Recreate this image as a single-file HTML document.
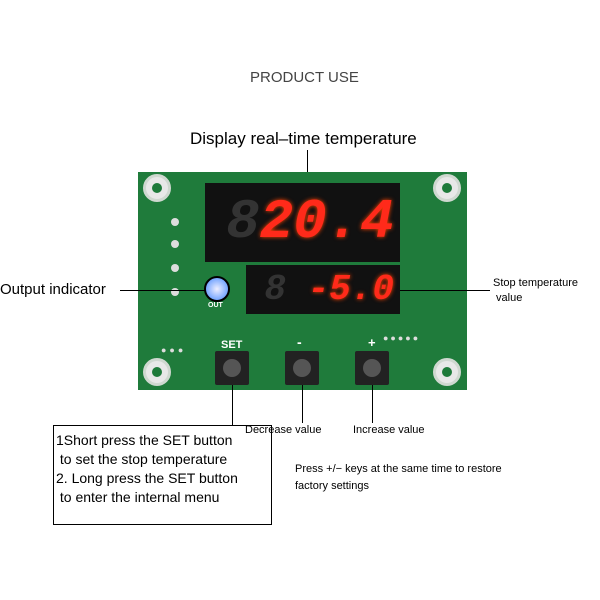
<!DOCTYPE html>
<html><head><style>
body{margin:0;width:600px;height:600px;background:#fff;position:relative;overflow:hidden;font-family:"Liberation Sans",sans-serif}
.a{position:absolute}
.hole{position:absolute;width:22px;height:22px;border-radius:50%;background:#e8e8e8;border:3px solid #cfd8d0}
.hole::after{content:"";position:absolute;left:6px;top:6px;width:10px;height:10px;border-radius:50%;background:#1e7a3a}
.disp{position:absolute;background:#111;color:#ff2a1a;font-weight:bold;font-style:italic;font-family:"Liberation Mono",monospace;text-shadow:0 0 4px #f40;white-space:nowrap;text-align:right;box-sizing:border-box;padding-right:6px;overflow:hidden}
.btn{position:absolute;width:34px;height:34px;background:#222;border-radius:2px}
.btn::after{content:"";position:absolute;left:8px;top:8px;width:18px;height:18px;border-radius:50%;background:#555}
.ln{position:absolute;background:#000}
</style></head><body>
<div class="a" style="left:250px;top:69px;font-size:15px;color:#444">PRODUCT USE</div>
<div class="a" style="left:190px;top:129px;font-size:17px;color:#000">Display real–time temperature</div>
<div class="ln" style="left:307px;top:150px;width:1px;height:34px"></div>

<div class="a" style="left:138px;top:172px;width:329px;height:218px;background:#1f7b3b"></div>
<div class="hole" style="left:143px;top:174px"></div>
<div class="hole" style="left:433px;top:174px"></div>
<div class="hole" style="left:143px;top:358px"></div>
<div class="hole" style="left:433px;top:358px"></div>
<div class="a" style="left:171px;top:218px;width:8px;height:8px;border-radius:50%;background:#ddd"></div>
<div class="a" style="left:171px;top:240px;width:8px;height:8px;border-radius:50%;background:#ddd"></div>
<div class="a" style="left:171px;top:264px;width:8px;height:8px;border-radius:50%;background:#ddd"></div>
<div class="a" style="left:171px;top:288px;width:8px;height:8px;border-radius:50%;background:#ddd"></div>
<div class="a" style="left:161px;top:345px;font-size:9px;color:#ddd;letter-spacing:3px">●●●</div>
<div class="a" style="left:383px;top:333px;font-size:9px;color:#ddd;letter-spacing:2px">●●●●●</div>

<div class="disp" style="left:205px;top:183px;width:195px;height:79px;font-size:56px;line-height:79px"><span style="color:#333;text-shadow:none">8</span>20.4</div>
<div class="disp" style="left:246px;top:265px;width:154px;height:49px;font-size:36px;line-height:49px"><span style="color:#333;text-shadow:none">8</span> -5.0</div>
<div class="a" style="left:204px;top:276px;width:22px;height:22px;border-radius:50%;background:radial-gradient(#eef,#48f);border:2px solid #000"></div>
<div class="a" style="left:208px;top:302px;font-size:7px;color:#fff;font-weight:bold">OUT</div>

<div class="a" style="left:221px;top:339px;font-size:11px;color:#fff;font-weight:bold">SET</div>
<div class="a" style="left:297px;top:334px;font-size:14px;color:#fff;font-weight:bold">-</div>
<div class="a" style="left:368px;top:335px;font-size:13px;color:#fff;font-weight:bold">+</div>
<div class="btn" style="left:215px;top:351px"></div>
<div class="btn" style="left:285px;top:351px"></div>
<div class="btn" style="left:355px;top:351px"></div>

<div class="ln" style="left:120px;top:290px;width:86px;height:1px"></div>
<div class="a" style="left:0;top:281px;font-size:15px;color:#000">Output indicator</div>
<div class="ln" style="left:400px;top:290px;width:90px;height:1px"></div>
<div class="a" style="left:493px;top:276px;font-size:11px;line-height:15px">Stop temperature<br>&nbsp;value</div>

<div class="ln" style="left:232px;top:385px;width:1px;height:41px"></div>
<div class="ln" style="left:302px;top:385px;width:1px;height:38px"></div>
<div class="ln" style="left:372px;top:385px;width:1px;height:38px"></div>
<div class="a" style="left:245px;top:424px;font-size:11px">Decrease value</div>
<div class="a" style="left:353px;top:424px;font-size:11px">Increase value</div>
<div class="a" style="left:295px;top:461px;font-size:11px;line-height:17px">Press +/− keys at the same time to restore<br>factory settings</div>

<div class="a" style="left:53px;top:425px;width:219px;height:100px;border:1px solid #000;box-sizing:border-box;font-size:14px;line-height:19px;padding:5px 0 0 2px">1Short press the SET button<br>&nbsp;to set the stop temperature<br>2. Long press the SET button<br>&nbsp;to enter the internal menu</div>
</body></html>
